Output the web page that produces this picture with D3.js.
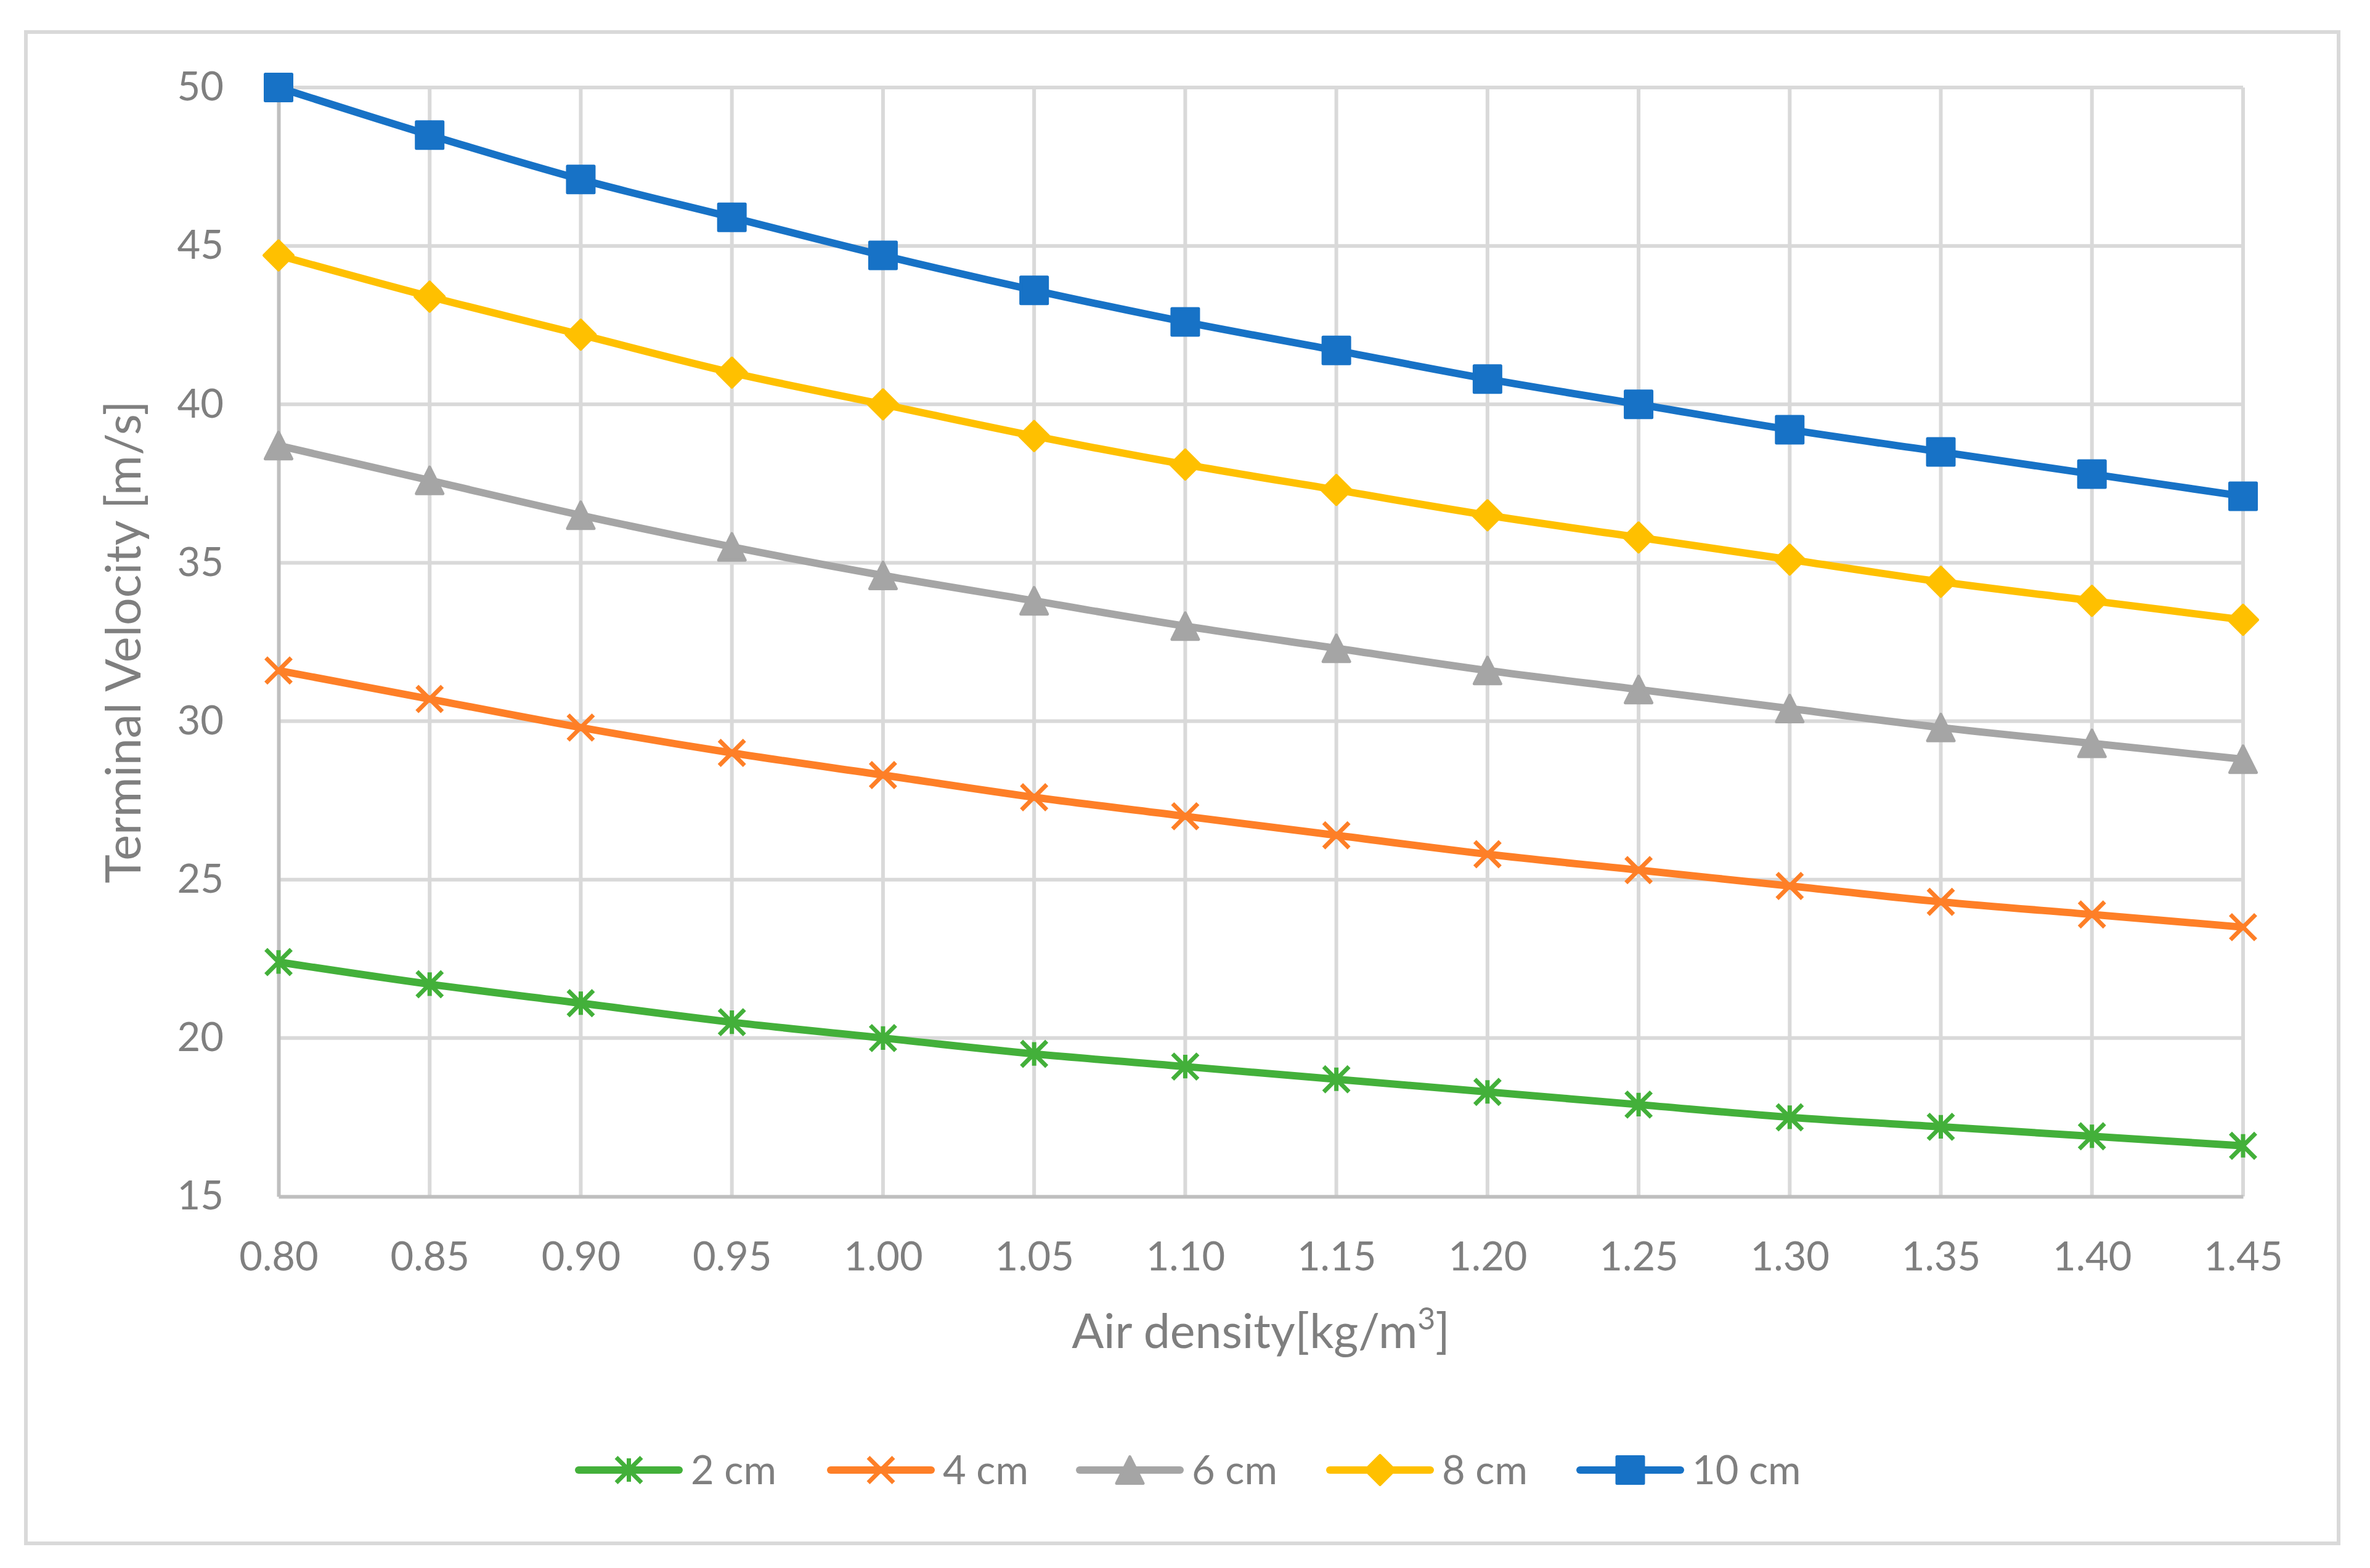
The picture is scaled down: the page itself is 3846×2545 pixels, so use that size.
<!DOCTYPE html>
<html>
<head>
<meta charset="utf-8">
<script src="https://cdn.jsdelivr.net/npm/d3@7"></script>
<style>
  html, body { margin: 0; padding: 0; background: #fff; }
  text { font-family: Lato, "Open Sans", sans-serif; fill: #7f7f7f; }
</style>
</head>
<body>
<script>
// air density categories (kg/m3)
var density = [0.80, 0.85, 0.90, 0.95, 1.00, 1.05, 1.10, 1.15, 1.20, 1.25, 1.30, 1.35, 1.40, 1.45];
var yTicks = [15, 20, 25, 30, 35, 40, 45, 50];

// terminal velocity per hailstone size
var v2cm  = [22.4, 21.7, 21.1, 20.5, 20.0, 19.5, 19.1, 18.7, 18.3, 17.9, 17.5, 17.2, 16.9, 16.6];
var v4cm  = [31.6, 30.7, 29.8, 29.0, 28.3, 27.6, 27.0, 26.4, 25.8, 25.3, 24.8, 24.3, 23.9, 23.5];
var v6cm  = [38.7, 37.6, 36.5, 35.5, 34.6, 33.8, 33.0, 32.3, 31.6, 31.0, 30.4, 29.8, 29.3, 28.8];
var v8cm  = [44.7, 43.4, 42.2, 41.0, 40.0, 39.0, 38.1, 37.3, 36.5, 35.8, 35.1, 34.4, 33.8, 33.2];
var v10cm = [50.0, 48.5, 47.1, 45.9, 44.7, 43.6, 42.6, 41.7, 40.8, 40.0, 39.2, 38.5, 37.8, 37.1];

var seriesNames = ['2 cm', '4 cm', '6 cm', '8 cm', '10 cm'];
var seriesValues = [v2cm, v4cm, v6cm, v8cm, v10cm];
var seriesColors = ['#43b03a', '#fe7f27', '#a5a5a5', '#ffc000', '#1772c6'];
var seriesMarkers = ['star', 'x', 'triangle', 'diamond', 'square'];

var W = 3846, H = 2545;
var plot = {left: 452, right: 3640, top: 142, bottom: 1942};

var svg = d3.select('body').append('svg')
    .attr('width', W).attr('height', H)
    .attr('viewBox', '0 0 ' + W + ' ' + H);

svg.append('rect').attr('width', W).attr('height', H).attr('fill', '#fff');

// outer chart border
svg.append('rect')
    .attr('x', 42).attr('y', 52)
    .attr('width', 3795 - 42).attr('height', 2505 - 52)
    .attr('fill', 'none').attr('stroke', '#d9d9d9').attr('stroke-width', 6);

var x = d3.scaleLinear().domain([0.80, 1.45]).range([plot.left, plot.right]);
var y = d3.scaleLinear().domain([15, 50]).range([plot.bottom, plot.top]);

// grid
var grid = svg.append('g');
grid.selectAll('.hgrid').data(yTicks.slice(1)).enter().append('line')
    .attr('x1', plot.left).attr('x2', plot.right)
    .attr('y1', function(d){ return y(d); }).attr('y2', function(d){ return y(d); })
    .attr('stroke', '#d9d9d9').attr('stroke-width', 6);
grid.selectAll('.vgrid').data(density.slice(1)).enter().append('line')
    .attr('x1', function(d){ return x(d); }).attr('x2', function(d){ return x(d); })
    .attr('y1', plot.top).attr('y2', plot.bottom)
    .attr('stroke', '#d9d9d9').attr('stroke-width', 6);

// axes
var yAxis = svg.append('g')
    .attr('transform', 'translate(' + plot.left + ',0)')
    .call(d3.axisLeft(y).tickValues(yTicks).tickSize(0).tickPadding(89).tickFormat(d3.format('d')));
yAxis.select('.domain').attr('stroke', '#bfbfbf').attr('stroke-width', 6);
yAxis.selectAll('text').attr('font-size', 65).attr('fill', '#7f7f7f')
    .style('font-family', 'Lato, "Open Sans", sans-serif');

var xAxis = svg.append('g')
    .attr('transform', 'translate(0,' + plot.bottom + ')')
    .call(d3.axisBottom(x).tickValues(density).tickSize(0).tickPadding(74).tickFormat(d3.format('.2f')));
xAxis.select('.domain').attr('stroke', '#bfbfbf').attr('stroke-width', 6);
xAxis.selectAll('text').attr('font-size', 65).attr('fill', '#7f7f7f')
    .style('font-family', 'Lato, "Open Sans", sans-serif');

// axis titles
svg.append('text')
    .attr('transform', 'translate(200,' + ((plot.top + plot.bottom) / 2) + ') rotate(-90)')
    .attr('text-anchor', 'middle').attr('dy', '0.35em')
    .attr('font-size', 79)
    .text('Terminal Velocity [m/s]');

var xt = svg.append('text')
    .attr('x', (plot.left + plot.right) / 2).attr('y', 2188)
    .attr('text-anchor', 'middle').attr('font-size', 77);
xt.append('tspan').text('Air density[kg/m');
xt.append('tspan').attr('font-size', 50).attr('dy', -30).text('3');
xt.append('tspan').attr('dy', 30).text(']');

// marker shapes
var markerPath = function(type, r){
    var p = d3.path();
    if (type === 'square') {
        p.rect(-r, -r, 2 * r, 2 * r);
    } else if (type === 'diamond') {
        p.moveTo(0, -r); p.lineTo(r, 0); p.lineTo(0, r); p.lineTo(-r, 0); p.closePath();
    } else if (type === 'triangle') {
        p.moveTo(0, -r); p.lineTo(r, r); p.lineTo(-r, r); p.closePath();
    } else if (type === 'x') {
        p.moveTo(-r, -r); p.lineTo(r, r); p.moveTo(r, -r); p.lineTo(-r, r);
    } else if (type === 'star') {
        p.moveTo(-r, -r); p.lineTo(r, r); p.moveTo(r, -r); p.lineTo(-r, r);
        p.moveTo(0, -r * 0.93); p.lineTo(0, r * 0.93);
    }
    return p.toString();
};

var drawMarker = function(g, type, color){
    var filled = (type === 'square' || type === 'diamond' || type === 'triangle');
    var r = (type === 'x' || type === 'star') ? 20.5 : (type === 'diamond' ? 23.5 : 21.5);
    g.append('path')
        .attr('d', markerPath(type, r))
        .attr('fill', filled ? color : 'none')
        .attr('stroke', color)
        .attr('stroke-width', filled ? 5 : 7)
        .attr('stroke-linejoin', 'round');
};

var line = d3.line()
    .x(function(d, i){ return x(density[i]); })
    .y(function(d){ return y(d); })
    .curve(d3.curveMonotoneX);

var series = svg.append('g').selectAll('.series').data(seriesValues).enter().append('g');
series.append('path')
    .attr('d', function(d){ return line(d); })
    .attr('fill', 'none')
    .attr('stroke', function(d, i){ return seriesColors[i]; })
    .attr('stroke-width', 12)
    .attr('stroke-linejoin', 'round');

series.each(function(vals, si){
    var gs = d3.select(this);
    vals.forEach(function(v, i){
        var m = gs.append('g').attr('transform', 'translate(' + x(density[i]) + ',' + y(v) + ')');
        drawMarker(m, seriesMarkers[si], seriesColors[si]);
    });
});

// legend
var legendX = [933, 1342, 1746, 2152, 2558];
var legendY = 2386;
var legend = svg.append('g');
seriesNames.forEach(function(name, i){
    var g = legend.append('g').attr('transform', 'translate(' + legendX[i] + ',' + legendY + ')');
    g.append('line')
        .attr('x1', 6).attr('x2', 169)
        .attr('stroke', seriesColors[i]).attr('stroke-width', 12)
        .attr('stroke-linecap', 'round');
    var m = g.append('g').attr('transform', 'translate(87.5,0)');
    drawMarker(m, seriesMarkers[i], seriesColors[i]);
    g.append('text')
        .attr('x', 188).attr('dy', '0.35em')
        .attr('font-size', 65)
        .text(name);
});
</script>
</body>
</html>
